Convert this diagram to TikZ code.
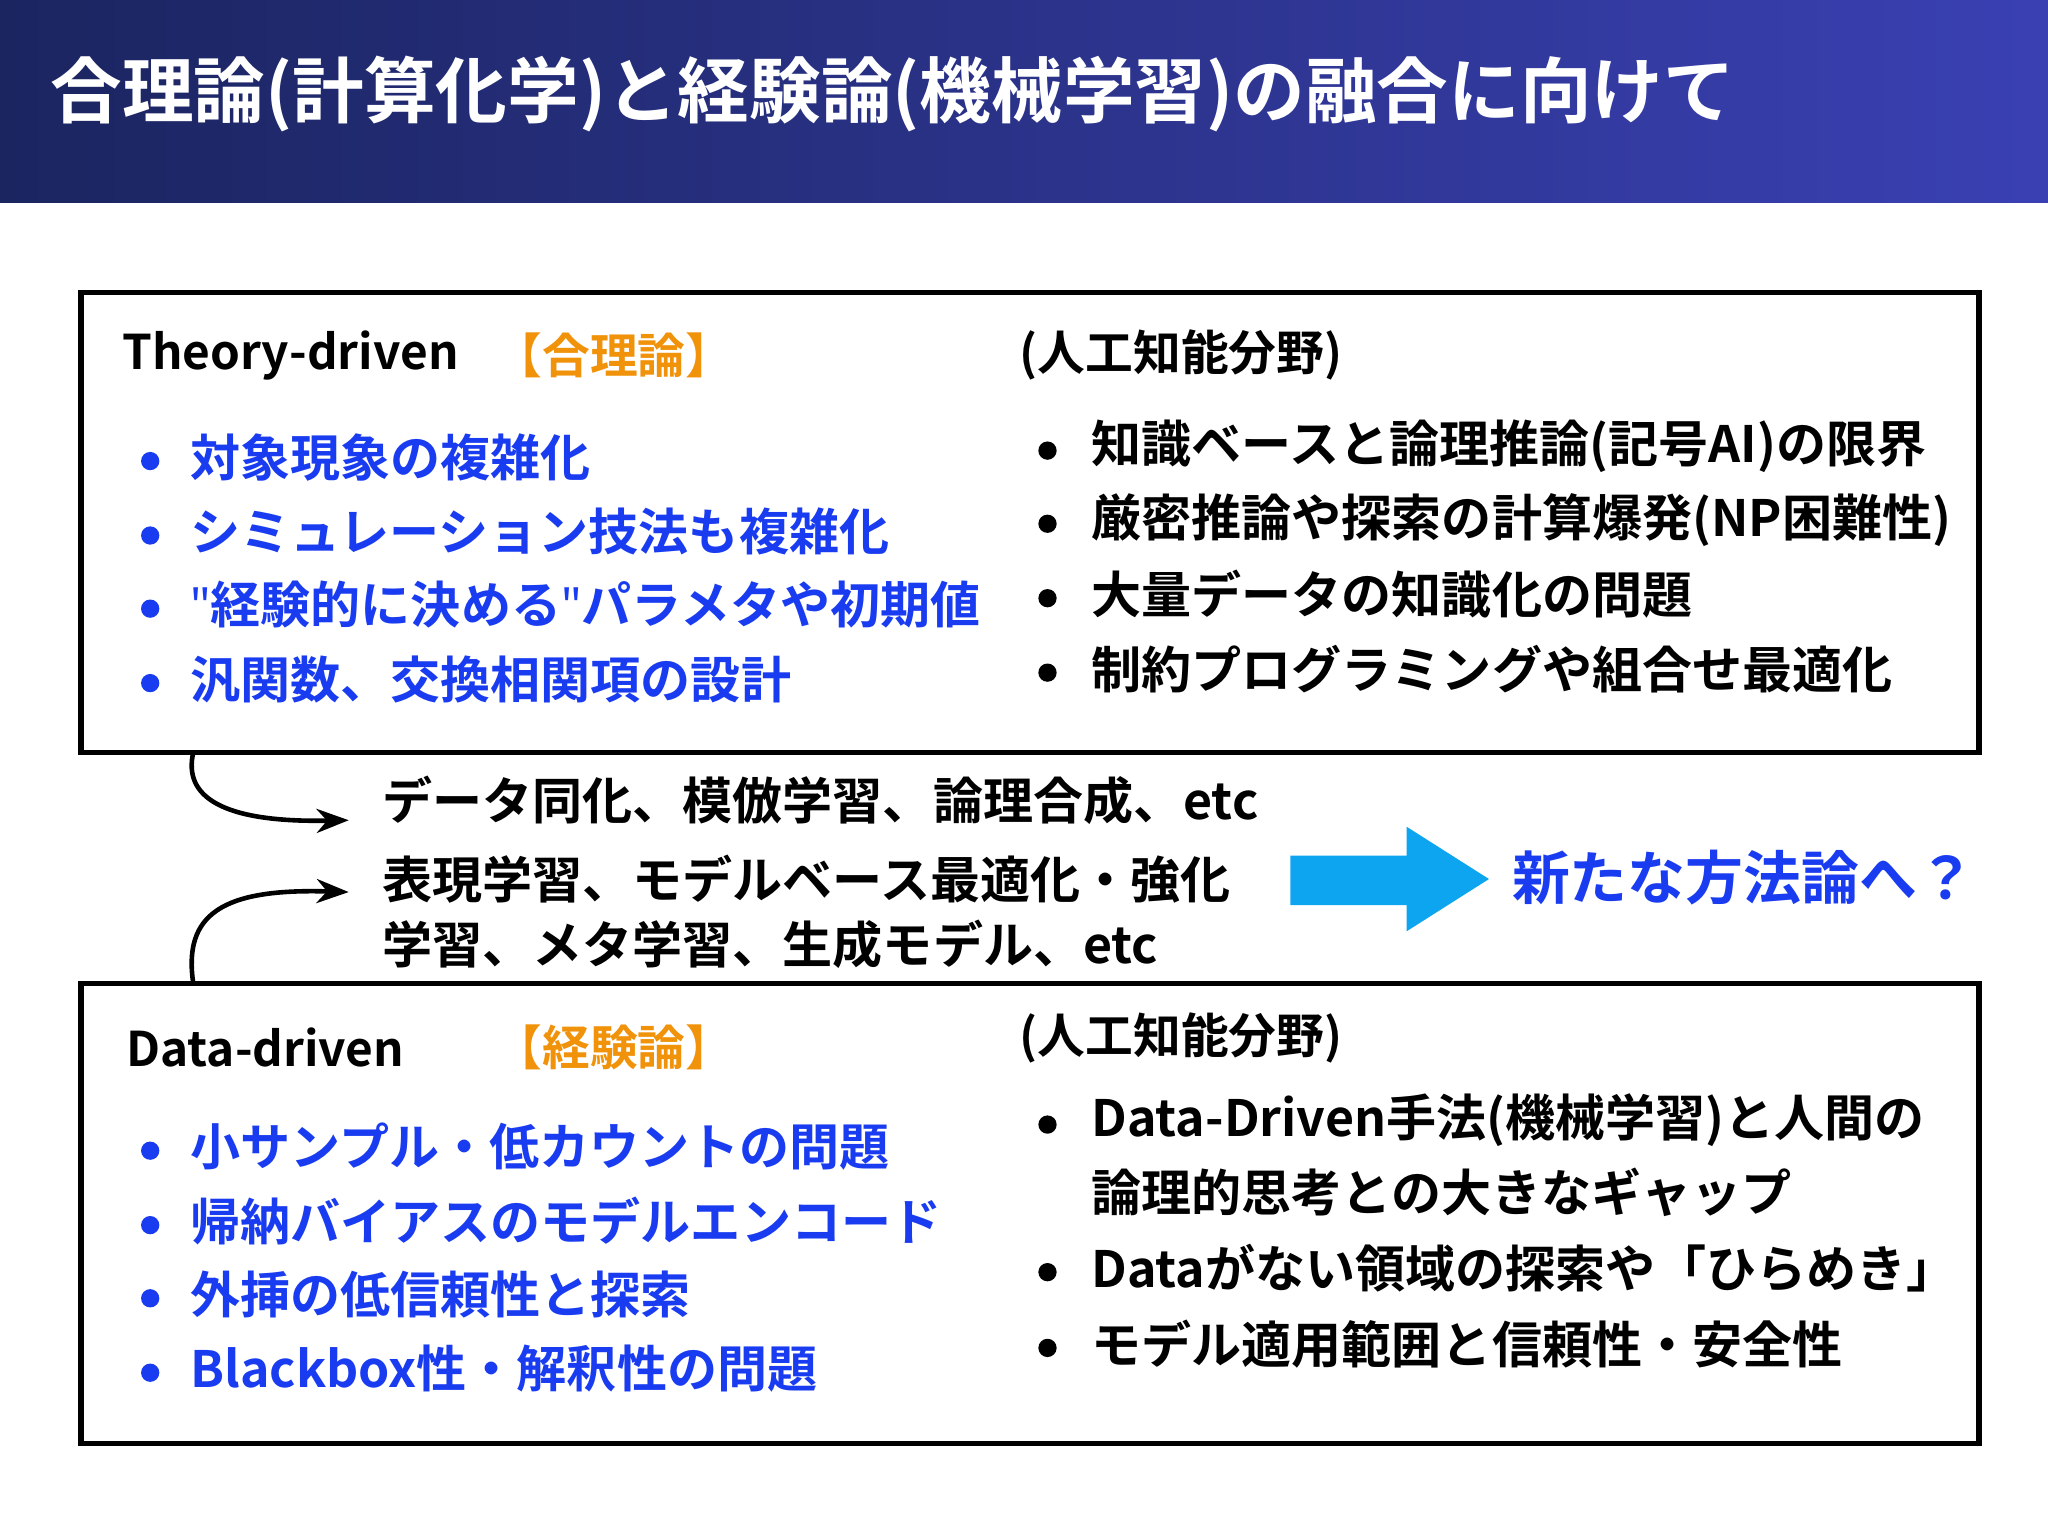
\documentclass[tikz,border=0pt]{standalone}
\usepackage{fontspec}
\setmainfont{Noto Sans CJK JP}[BoldFont={* Bold}]
\usetikzlibrary{arrows.meta}
\definecolor{navyA}{HTML}{1B2560}
\definecolor{navyB}{HTML}{3A40B2}
\definecolor{bluetxt}{HTML}{1A3CF0}
\definecolor{orng}{HTML}{F0920A}
\definecolor{arrowblue}{HTML}{0EA5F0}
\begin{document}
\begin{tikzpicture}[x=0.01cm,y=-0.01cm,
  txt/.style={anchor=west,inner sep=0,font=\fontsize{10.9pt}{14pt}\selectfont\bfseries},
  hdr/.style={anchor=west,inner sep=0,font=\fontsize{10.4pt}{13pt}\selectfont\bfseries},
  bul/.style={txt,text=bluetxt},
  dotb/.style={circle,fill=bluetxt,inner sep=0,minimum size=0.14cm},
  dotk/.style={circle,fill=black,inner sep=0,minimum size=0.14cm},
  frame/.style={draw=black,line width=1.2pt},
  curv/.style={-{Stealth[length=7pt]},line width=1pt}]
\useasboundingbox (0,0) rectangle (1568,1176);
\shade[left color=navyA,right color=navyB] (0,0) rectangle (1568,155);
\node[anchor=west,inner sep=0,text=white,font=\fontsize{15.6pt}{18pt}\selectfont\bfseries] (title) at (38,72) {合理論(計算化学)と経験論(機械学習)の融合に向けて};
% box 1
\draw[frame] (62,224) rectangle (1515,576);
\coordinate (b1) at (148,576);
\node[hdr] (th) at (93,272) {Theory-driven};
\node[hdr,text=orng] (th2) at (378,272) {【合理論】};
\node[hdr] (ai1) at (780,272) {(人工知能分野)};
\foreach \y/\n in {353/a1,410/a2,466/a3,523/a4,881/c1,938/c2,994/c3,1051/c4}
  \node[dotb] (\n) at (115,\y) {};
\foreach \y/\n in {345/d1,401/d2,458/d3,515/d4,861/e1,974/e2,1032/e3}
  \node[dotk] (\n) at (802,\y) {};
\node[bul] (l1) at (145,350) {対象現象の複雑化};
\node[bul] (l2) at (145,407) {シミュレーション技法も複雑化};
\node[bul] (l3) at (145,463) {\fontspec{Noto Sans}\bfseries"\normalfont\bfseries 経験的に決める\fontspec{Noto Sans}\bfseries"\normalfont\bfseries パラメタや初期値};
\node[bul] (l4) at (145,520) {汎関数、交換相関項の設計};
\node[txt] (r1) at (835,342) {知識ベースと論理推論(記号AI)の限界};
\node[txt] (r2) at (835,398) {厳密推論や探索の計算爆発(NP困難性)};
\node[txt] (r3) at (835,455) {大量データの知識化の問題};
\node[txt] (r4) at (835,512) {制約プログラミングや組合せ最適化};
% middle
\node[txt] (m1) at (292,613) {データ同化、模倣学習、論理合成、etc};
\node[txt,align=left] (m2) at (292,698) {表現学習、モデルベース最適化・強化\\学習、メタ学習、生成モデル、etc};
\coordinate (t1) at (267,628);
\coordinate (t2) at (267,683);
\coordinate (b2) at (148,753);
\draw[curv] (b1) .. controls (140,610) and (170,630) .. (t1);
\draw[curv] (b2) .. controls (140,700) and (170,680) .. (t2);
\fill[arrowblue] (988,655) -- (1077,655) -- (1077,633) -- (1140,673) -- (1077,713) -- (1077,693) -- (988,693) -- cycle;
\node[anchor=west,inner sep=0,text=bluetxt,font=\fontsize{12.6pt}{16pt}\selectfont\bfseries] (new) at (1157,672) {新たな方法論へ？};
% box 2
\draw[frame] (62,753) rectangle (1515,1105);
\node[hdr] (dd) at (96,802) {Data-driven};
\node[hdr,text=orng] (dd2) at (378,802) {【経験論】};
\node[hdr] (ai2) at (780,795) {(人工知能分野)};
\node[bul] (k1) at (145,878) {小サンプル・低カウントの問題};
\node[bul] (k2) at (145,935) {帰納バイアスのモデルエンコード};
\node[bul] (k3) at (145,991) {外挿の低信頼性と探索};
\node[bul] (k4) at (145,1048) {Blackbox性・解釈性の問題};
\node[txt] (s1) at (835,858) {Data-Driven手法(機械学習)と人間の};
\node[txt] (s1b) at (835,913) {論理的思考との大きなギャップ};
\node[txt] (s2) at (835,971) {Dataがない領域の探索や「ひらめき」};
\node[txt] (s3) at (835,1029) {モデル適用範囲と信頼性・安全性};
\end{tikzpicture}
\end{document}
